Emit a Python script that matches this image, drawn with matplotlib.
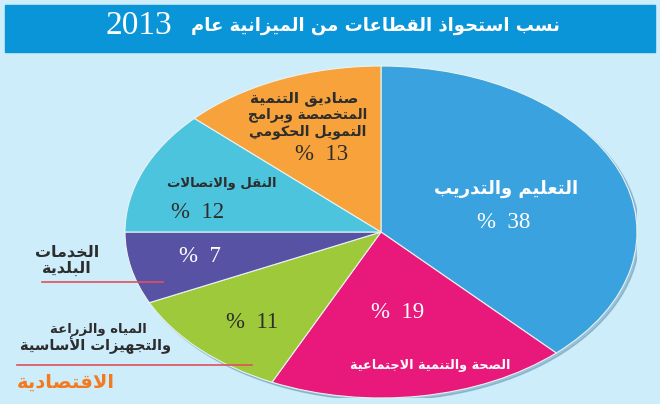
import unicodedata
import matplotlib
matplotlib.use("Agg")
import matplotlib.pyplot as plt
from matplotlib.patches import Rectangle, Ellipse

# data
title_ar = "نسب استحواذ القطاعات من الميزانية عام"
title_year = "2013"
sectors = ["التعليم والتدريب", "الصحة والتنمية الاجتماعية", "المياه والزراعة والتجهيزات الأساسية",
           "الخدمات البلدية", "النقل والاتصالات", "صناديق التنمية المتخصصة وبرامج التمويل الحكومي"]
shares = [38, 19, 11, 7, 12, 13]
colors = ["#3aa2de", "#e8197b", "#9dc93b", "#5752a4", "#4cc4dd", "#f7a23b"]
source = "الاقتصادية"


# matplotlib has no arabic shaping, so pick presentation forms by hand
FORMS = {}
for cp in range(0xFE80, 0xFEFD):
    dec = unicodedata.decomposition(chr(cp))
    if dec.startswith("<"):
        tag, *codes = dec.split()
        key = "".join(chr(int(c, 16)) for c in codes)
        FORMS.setdefault(key, {})[tag[1:-1]] = chr(cp)


def shape(text):
    units = []
    i = 0
    while i < len(text):
        if text[i] == "ل" and i + 1 < len(text) and text[i:i + 2] in FORMS:
            units.append(text[i:i + 2])
            i += 2
        else:
            units.append(text[i])
            i += 1
    out = []
    for j, u in enumerate(units):
        if u not in FORMS:
            out.append(u)
            continue
        f = FORMS[u]
        prev = units[j - 1] if j > 0 else None
        nxt = units[j + 1] if j + 1 < len(units) else None
        jp = prev in FORMS and "initial" in FORMS[prev] and "final" in f
        jn = "initial" in f and nxt in FORMS and "final" in FORMS[nxt]
        if jp and jn:
            out.append(f["medial"])
        elif jp:
            out.append(f["final"])
        elif jn:
            out.append(f["initial"])
        else:
            out.append(f["isolated"])
    return "".join(out)[::-1]


W, H = 660, 404
fig = plt.figure(figsize=(W / 100, H / 100), dpi=100, facecolor="#cdedfb")

# pie, stretched into an ellipse
cx, cy, rx, ry = 381, 232, 256, 166
pax = fig.add_axes([(cx - rx) / W, (H - cy - ry) / H, 2 * rx / W, 2 * ry / H])
pax.add_patch(Ellipse((0.01, -0.015), 2, 2, color="#4f86a8", alpha=0.4, zorder=0))
pax.pie(shares, colors=colors, startangle=90, counterclock=False,
        wedgeprops=dict(edgecolor="#e8f3f0", linewidth=0.8))
pax.set_aspect("auto")
pax.set_xlim(-1, 1)
pax.set_ylim(-1, 1)
pax.axis("off")

# overlay in pixel coordinates
ax = fig.add_axes([0, 0, 1, 1])
ax.set_xlim(0, W)
ax.set_ylim(H, 0)
ax.axis("off")
ax.patch.set_alpha(0)

ax.add_patch(Rectangle((5, 5), 650, 47, color="#0a95d8"))
ax.text(560, 26, shape(title_ar), color="white", fontsize=13, fontweight="bold",
        family="DejaVu Sans", ha="right", va="center")
ax.text(172, 26, title_year, color="white", fontsize=24, family="Liberation Serif",
        ha="right", va="center")

dark = "#2d2d2d"
ar = dict(family="DejaVu Sans", fontweight="bold", ha="center", va="center")
num = dict(family="Liberation Serif", ha="center", va="center", fontsize=16.5)

# percentages
pct_pos = [(504, 222, "white"), (398, 313, "white"), (252, 323, dark),
           (200, 256, "white"), (198, 212, dark), (322, 154, dark)]
for v, (x, y, c) in zip(shares, pct_pos):
    ax.text(x, y, "%  " + str(v), color=c, **num)

# sector names
ax.text(506, 189, shape(sectors[0]), color="white", fontsize=13, **ar)
ax.text(430, 366, shape(sectors[1]), color="white", fontsize=9.2, **ar)
ax.text(98, 330, shape("المياه والزراعة"), color=dark, fontsize=9.5, **ar)
ax.text(96, 345, shape("والتجهيزات الأساسية"), color=dark, fontsize=10.5, **ar)
ax.text(67, 252, shape("الخدمات"), color=dark, fontsize=11.5, **ar)
ax.text(67, 268, shape("البلدية"), color=dark, fontsize=11.5, **ar)
ax.text(222, 183, shape(sectors[4]), color=dark, fontsize=9.5, **ar)
ax.text(304, 99, shape("صناديق التنمية"), color=dark, fontsize=11, **ar)
ax.text(308, 115, shape("المتخصصة وبرامج"), color=dark, fontsize=9.8, **ar)
ax.text(308, 132, shape("التمويل الحكومي"), color=dark, fontsize=10.2, **ar)

ax.plot([42, 163], [282, 282], color="#e0505c", lw=1.2)
ax.plot([17, 252], [365, 365], color="#e0505c", lw=1.2)

ax.text(17, 382, shape(source), color="#f47a1f", family="DejaVu Sans", fontweight="bold",
        fontsize=14, ha="left", va="center")

fig.savefig("out.png", dpi=100, facecolor=fig.get_facecolor())
